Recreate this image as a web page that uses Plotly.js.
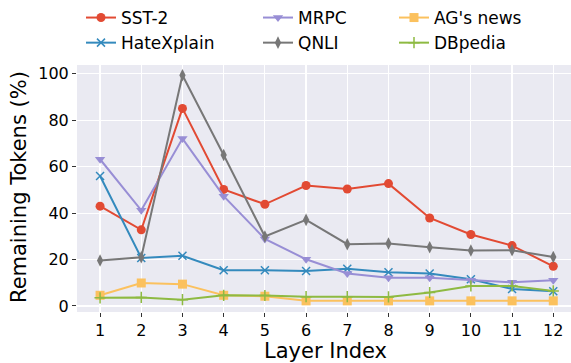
<!DOCTYPE html>
<html>
<head>
<meta charset="utf-8">
<script src="https://cdn.plot.ly/plotly-3.0.1.min.js"></script>
<style>html,body{margin:0;padding:0;background:#fff;}#chart{width:571px;height:363px;}</style>
</head>
<body>
<div id="chart"></div>
<script>
const layers = [1,2,3,4,5,6,7,8,9,10,11,12];
const sst2 = [43.0, 32.8, 85.1, 50.2, 43.8, 51.9, 50.4, 52.7, 37.9, 30.8, 26.0, 17.1];
const hatexplain = [56.0, 20.7, 21.6, 15.4, 15.4, 15.1, 16.0, 14.5, 14.0, 11.5, 7.3, 6.3];
const mrpc = [63.2, 41.2, 72.1, 47.3, 28.9, 20.1, 14.0, 12.2, 12.2, 11.1, 10.2, 11.1];
const qnli = [19.6, 21.0, 99.4, 65.0, 29.9, 37.1, 26.6, 26.9, 25.3, 23.9, 24.0, 21.1];
const agnews = [4.6, 9.9, 9.4, 4.6, 4.2, 2.2, 2.2, 2.2, 2.2, 2.2, 2.2, 2.2];
const dbpedia = [3.5, 3.7, 2.7, 4.6, 4.5, 4.0, 4.0, 3.9, 5.8, 8.6, 8.6, 6.5];
const yTicks = [0, 20, 40, 60, 80, 100];
const xTitle = 'Layer Index';
const yTitle = 'Remaining Tokens (%)';

function tr(name, y, color, symbol, legend, thin) {
  const marker = {symbol: symbol, size: 9, color: color};
  if (thin) { marker.line = {color: color, width: 1.5}; marker.size = 8; }
  return {x: layers, y: y, name: name, type: 'scatter', mode: 'lines+markers',
    line: {color: color, width: 2}, marker: marker, legend: legend};
}
const data = [
  tr('SST-2', sst2, '#E24A33', 'circle', 'legend'),
  tr('HateXplain', hatexplain, '#348ABD', 'x-thin', 'legend', true),
  tr('MRPC', mrpc, '#988ED5', 'triangle-down', 'legend2'),
  tr('QNLI', qnli, '#777777', 'diamond-tall', 'legend2'),
  tr("AG's news", agnews, '#FBC15E', 'square', 'legend3'),
  tr('DBpedia', dbpedia, '#8EBA42', 'cross-thin', 'legend3', true)
];
const font = {family: 'DejaVu Sans', size: 17, color: '#000'};
const titleFont = {family: 'DejaVu Sans', size: 21, color: '#000'};
function leg(xpx) {
  return {xref: 'container', yref: 'container', x: xpx/571, y: 1 - 0/363,
    xanchor: 'left', yanchor: 'top', orientation: 'v', bgcolor: 'rgba(0,0,0,0)',
    font: font, tracegroupgap: 0};
}
const layout = {
  width: 571, height: 363,
  margin: {l: 77, r: 0, t: 65, b: 51, autoexpand: false},
  paper_bgcolor: '#ffffff', plot_bgcolor: '#EAEAF2',
  font: font,
  showlegend: true,
  legend: leg(81), legend2: leg(258), legend3: leg(394),
  xaxis: {range: [0.44, 12.43], tickvals: layers, ticktext: layers.map(String),
    showgrid: true, gridcolor: '#ffffff', gridwidth: 1.2, zeroline: false,
    ticks: 'outside', ticklen: 4, tickcolor: '#333', tickfont: {family: 'DejaVu Sans', size: 16, color: '#000'},
    showline: false, automargin: false},
  yaxis: {range: [-2.6, 103.8], tickvals: yTicks,
    showgrid: true, gridcolor: '#ffffff', gridwidth: 1.2, zeroline: false,
    ticks: 'outside', ticklen: 4, tickcolor: '#333', tickfont: {family: 'DejaVu Sans', size: 16, color: '#000'},
    showline: false, automargin: false},
  annotations: [
    {text: xTitle, xref: 'paper', yref: 'paper', x: 0.503, y: -0.158, xanchor: 'center', yanchor: 'middle',
     showarrow: false, font: titleFont},
    {text: yTitle, xref: 'paper', yref: 'paper', x: -0.1184, y: 0.504, xanchor: 'center', yanchor: 'middle',
     textangle: -90, showarrow: false, font: titleFont}
  ]
};
Plotly.newPlot('chart', data, layout, {displayModeBar: false, staticPlot: true});
</script>
</body>
</html>
